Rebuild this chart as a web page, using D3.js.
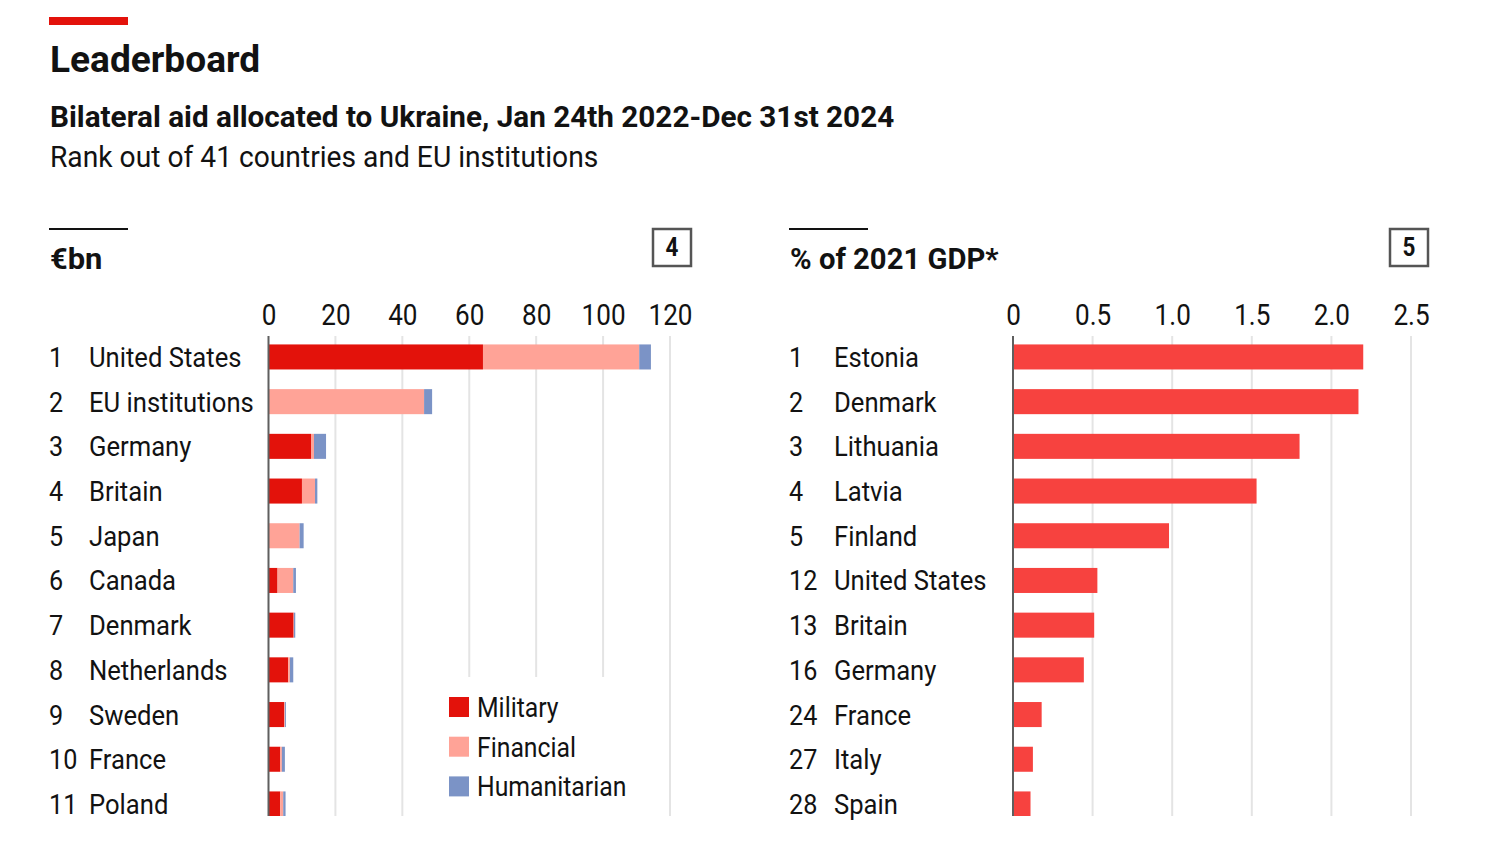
<!DOCTYPE html>
<html>
<head>
<meta charset="utf-8">
<script src="https://cdn.jsdelivr.net/npm/d3@7"></script>
<style>
  html, body { margin: 0; padding: 0; background: #fff; }
  svg { display: block; }
  text { font-family: Roboto, "Liberation Sans", sans-serif; fill: #121212; }
</style>
</head>
<body>
<div id="chart"></div>
<script>
// left panel, EUR bn
const ranksLeft = [1, 2, 3, 4, 5, 6, 7, 8, 9, 10, 11];
const countriesLeft = ["United States", "EU institutions", "Germany", "Britain", "Japan", "Canada", "Denmark", "Netherlands", "Sweden", "France", "Poland"];
const military = [64.1, 0, 12.7, 10.0, 0, 2.7, 7.5, 5.9, 4.7, 3.5, 3.5];
const financial = [46.7, 46.5, 0.9, 3.9, 9.3, 4.7, 0.1, 0.5, 0.2, 0.5, 0.9];
const humanitarian = [3.5, 2.4, 3.6, 0.7, 1.2, 0.8, 0.4, 1.0, 0.3, 0.9, 0.7];
const ticksLeft = [0, 20, 40, 60, 80, 100, 120];

// right panel, % of GDP
const ranksRight = [1, 2, 3, 4, 5, 12, 13, 16, 24, 27, 28];
const countriesRight = ["Estonia", "Denmark", "Lithuania", "Latvia", "Finland", "United States", "Britain", "Germany", "France", "Italy", "Spain"];
const gdpShare = [2.2, 2.17, 1.8, 1.53, 0.98, 0.53, 0.51, 0.445, 0.18, 0.125, 0.11];
const ticksRight = [0, 0.5, 1, 1.5, 2, 2.5];

const seriesNames = ["Military", "Financial", "Humanitarian"];
const seriesColors = ["#e3120b", "#ffa397", "#7b93c6"];

const width = 1496;
const height = 846;
const rowTop = 334.6;
const rowBottom = 826.3;
const squeeze = 0.9; // the original type is narrower than anything installed

const svg = d3.select("#chart").append("svg")
  .attr("width", width)
  .attr("height", height);

function label(g, x, y, str, size, weight, anchor, k) {
  return g.append("text")
    .attr("transform", `translate(${x},${y}) scale(${k || squeeze},1)`)
    .attr("text-anchor", anchor || "start")
    .style("font-size", size + "px")
    .style("font-weight", weight || 400)
    .text(str);
}

// header
svg.append("rect").attr("x", 49).attr("y", 17).attr("width", 79).attr("height", 8).attr("fill", "#e3120b");
label(svg, 50, 72, "Leaderboard", 36, 700, "start", 1.03);
label(svg, 50, 127, "Bilateral aid allocated to Ukraine, Jan 24th 2022-Dec 31st 2024", 30, 700, "start", 0.99);
label(svg, 50, 167, "Rank out of 41 countries and EU institutions", 30, 400, "start", 0.94);

const y = d3.scaleBand()
  .domain(d3.range(11))
  .range([rowTop, rowBottom])
  .paddingInner(0.44)
  .paddingOuter(0.22);

function panel(opts) {
  const g = svg.append("g");
  const x = d3.scaleLinear().domain(opts.domain).range(opts.range);

  g.append("line")
    .attr("x1", opts.left).attr("x2", opts.left + 79)
    .attr("y1", 229).attr("y2", 229)
    .attr("stroke", "#121212").attr("stroke-width", 2);
  label(g, opts.left + 1, 269, opts.title, 30, 700, "start", opts.titleSqueeze);

  // numbered box
  g.append("rect")
    .attr("x", opts.boxX).attr("y", 229)
    .attr("width", 38).attr("height", 37)
    .attr("fill", "#fff").attr("stroke", "#555").attr("stroke-width", 2.5);
  label(g, opts.boxX + 19, 256, opts.boxNum, 25, 700, "middle");

  // axis labels
  const axis = d3.axisTop(x).tickValues(opts.ticks).tickSize(0).tickPadding(0).tickFormat(opts.format);
  const axisG = g.append("g")
    .attr("transform", "translate(0,325)")
    .call(axis);
  axisG.select(".domain").remove();
  axisG.selectAll("text")
    .attr("dy", 0)
    .attr("transform", `scale(${squeeze},1)`)
    .style("font-family", "Roboto")
    .style("font-size", "29px")
    .attr("fill", "#121212");

  // gridlines
  g.append("g").selectAll("line")
    .data(opts.ticks.slice(1))
    .enter().append("line")
    .attr("x1", (d) => x(d)).attr("x2", (d) => x(d))
    .attr("y1", 336)
    .attr("y2", (d) => opts.gridEnd(d))
    .attr("stroke", "#e4e4e4").attr("stroke-width", 2);

  // row labels
  opts.names.forEach((name, i) => {
    const cy = y(i) + y.bandwidth() / 2 + 10;
    label(g, opts.left, cy, opts.ranks[i], 28);
    label(g, opts.nameX, cy, name, 28, 400, "start", 0.915);
  });

  opts.drawBars(g, x);

  g.append("line")
    .attr("x1", x(0)).attr("x2", x(0))
    .attr("y1", 336).attr("y2", 816)
    .attr("stroke", "#5f5f5f").attr("stroke-width", 2);
}

panel({
  left: 49,
  nameX: 89,
  domain: [0, 120],
  range: [268.5, 670],
  ticks: ticksLeft,
  format: d3.format("d"),
  title: "€bn",
  titleSqueeze: 1.03,
  boxX: 653,
  boxNum: "4",
  ranks: ranksLeft,
  names: countriesLeft,
  gridEnd: (d) => (d >= 60 && d <= 100 ? 677 : 816),
  drawBars: (g, x) => {
    const rows = countriesLeft.map((c, i) => ({
      i,
      Military: military[i],
      Financial: financial[i],
      Humanitarian: humanitarian[i],
    }));
    const stacked = d3.stack().keys(seriesNames)(rows);
    g.append("g").selectAll("g")
      .data(stacked)
      .enter().append("g")
      .attr("fill", (d, k) => seriesColors[k])
      .selectAll("rect")
      .data((d) => d)
      .enter().append("rect")
      .attr("x", (d) => x(d[0]))
      .attr("width", (d) => x(d[1]) - x(d[0]))
      .attr("y", (d) => y(d.data.i))
      .attr("height", (d) => Math.min(y.bandwidth(), 816 - y(d.data.i)));
  },
});

panel({
  left: 789,
  nameX: 834,
  domain: [0, 2.5],
  range: [1013, 1411],
  ticks: ticksRight,
  format: (d) => (d === 0 ? "0" : d3.format(".1f")(d)),
  title: "% of 2021 GDP*",
  titleSqueeze: 0.975,
  boxX: 1390,
  boxNum: "5",
  ranks: ranksRight,
  names: countriesRight,
  gridEnd: () => 816,
  drawBars: (g, x) => {
    g.append("g").selectAll("rect")
      .data(gdpShare)
      .enter().append("rect")
      .attr("x", x(0))
      .attr("width", (d) => x(d) - x(0))
      .attr("y", (d, i) => y(i))
      .attr("height", (d, i) => Math.min(y.bandwidth(), 816 - y(i)))
      .attr("fill", "#f7423f");
  },
});

// legend
const legend = svg.append("g");
seriesNames.forEach((name, i) => {
  const ly = 697 + i * 39.7;
  legend.append("rect")
    .attr("x", 449).attr("y", ly)
    .attr("width", 20).attr("height", 20)
    .attr("fill", seriesColors[i]);
  label(legend, 477, ly + 20, name, 28, 400, "start", 0.885);
});
</script>
</body>
</html>
